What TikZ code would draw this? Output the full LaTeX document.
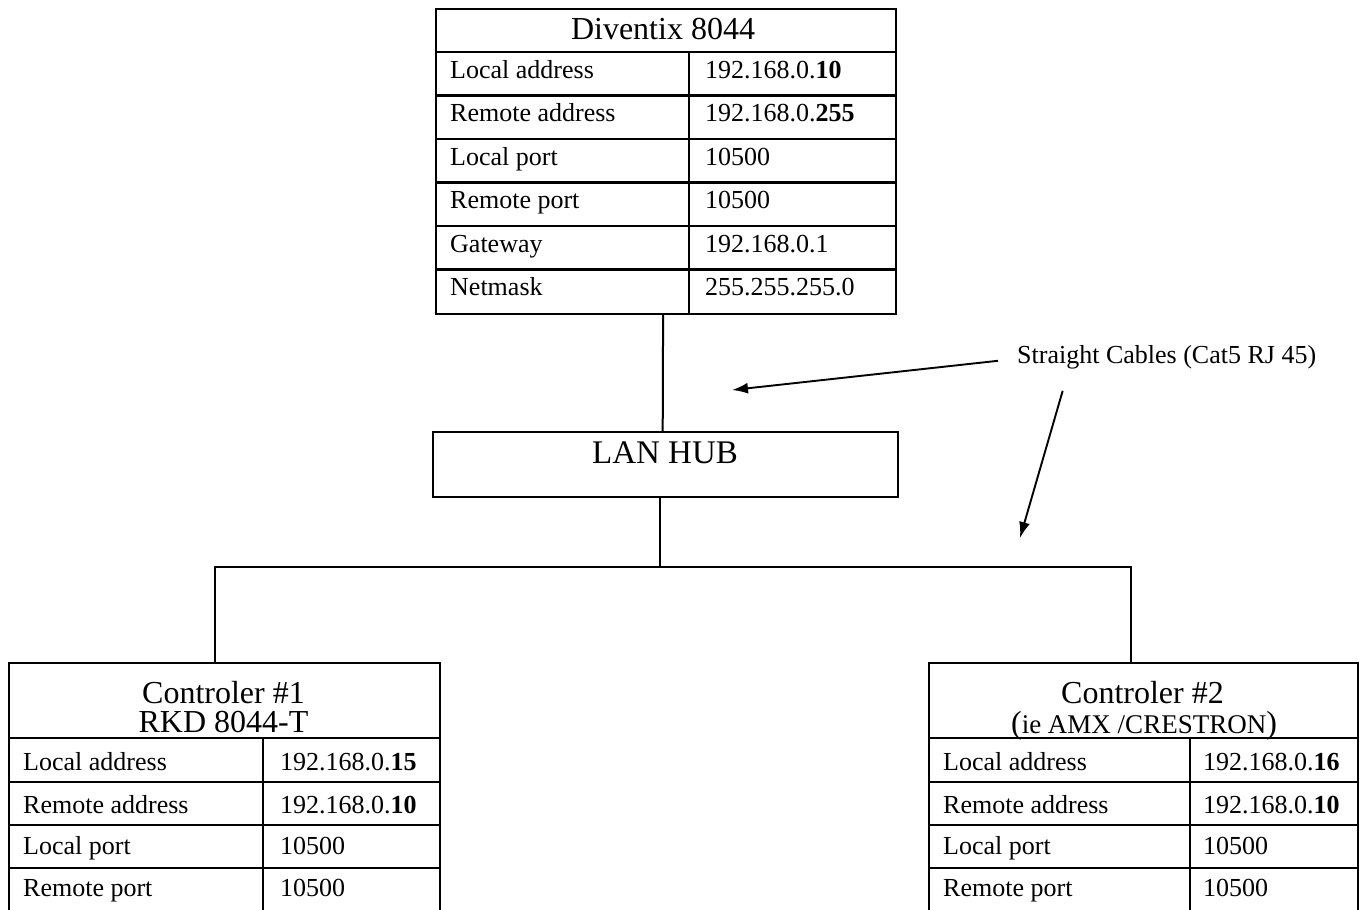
\documentclass[tikz,border=0pt]{standalone}
\usepackage{fontspec}
\setmainfont{Liberation Serif}
\usepackage{tikz}
\usetikzlibrary{arrows.meta}
\usetikzlibrary{calc}

\tikzset{
  tablebox/.style={draw, line width=2.2pt, inner sep=0pt, anchor=north west},
  celltext/.style={anchor=base west, inner sep=0pt, font=\fontsize{26}{30}\selectfont},
  titletext/.style={anchor=base, inner sep=0pt, font=\fontsize{32}{36}\selectfont},
  cable/.style={line width=2pt},
  cablearrow/.style={line width=1.9pt, -{Latex[length=16pt,width=11pt]}},
}

\begin{document}
\begin{tikzpicture}[x=1pt, y=-1pt]
  \useasboundingbox (0,0) rectangle (1363,910);
  \clip (0,0) rectangle (1363,910);

  % Diventix table
  \node[tablebox, minimum width=460pt, minimum height=305pt] (diventix) at (435,8) {};
  \foreach \y in {52,95.5,139,182.5,226,269.5} \draw[line width=2.2pt] (435,\y) -- (895,\y);
  \draw[line width=2.2pt] (689,52) -- (689,313);
  \node[titletext] (dtitle) at (663,39) {Diventix 8044};
  \node[celltext] (d1) at (450,78) {Local address};
  \node[celltext] (d1v) at (705,78) {192.168.0.\textbf{10}};
  \node[celltext] (d2) at (450,121.5) {Remote address};
  \node[celltext] (d2v) at (705,121.5) {192.168.0.\textbf{255}};
  \node[celltext] (d3) at (450,165) {Local port};
  \node[celltext] (d3v) at (705,165) {10500};
  \node[celltext] (d4) at (450,208.5) {Remote port};
  \node[celltext] (d4v) at (705,208.5) {10500};
  \node[celltext] (d5) at (450,252) {Gateway};
  \node[celltext] (d5v) at (705,252) {192.168.0.1};
  \node[celltext] (d6) at (450,295) {Netmask};
  \node[celltext] (d6v) at (705,295) {255.255.255.0};

  % hub
  \node[tablebox, line width=2.4pt, minimum width=465pt, minimum height=65pt] (hub) at (432,431) {};
  \node[titletext, font=\fontsize{33}{36}\selectfont] (hubtext) at (665,463) {LAN HUB};

  % controller 1
  \node[tablebox, minimum width=431pt, minimum height=250pt] (ctrlA) at (8,662) {};
  \foreach \y in {738,782,825,868} \draw[line width=2.2pt] (8,\y) -- (439,\y);
  \draw[line width=2.2pt] (263,738) -- (263,912);
  \node[titletext] (atitle) at (223.5,703) {Controler \#1};
  \node[titletext] (asub) at (223.5,732) {RKD 8044-T};
  \node[celltext] (a1) at (23,770) {Local address};
  \node[celltext] (a1v) at (280,770) {192.168.0.\textbf{15}};
  \node[celltext] (a2) at (23,813) {Remote address};
  \node[celltext] (a2v) at (280,813) {192.168.0.\textbf{10}};
  \node[celltext] (a3) at (23,854) {Local port};
  \node[celltext] (a3v) at (280,854) {10500};
  \node[celltext] (a4) at (23,896) {Remote port};
  \node[celltext] (a4v) at (280,896) {10500};

  % controller 2
  \node[tablebox, minimum width=429pt, minimum height=250pt] (ctrlB) at (928,662) {};
  \foreach \y in {738,782,825,868} \draw[line width=2.2pt] (928,\y) -- (1357,\y);
  \draw[line width=2.2pt] (1190,738) -- (1190,912);
  \node[titletext] (btitle) at (1142.5,703) {Controler \#2};
  \node[titletext] (bsub) at (1144,733) {({\fontsize{27}{30}\selectfont ie AMX /CRESTRON})};
  \node[celltext] (b1) at (943,770) {Local address};
  \node[celltext] (b1v) at (1203,770) {192.168.0.\textbf{16}};
  \node[celltext] (b2) at (943,813) {Remote address};
  \node[celltext] (b2v) at (1203,813) {192.168.0.\textbf{10}};
  \node[celltext] (b3) at (943,854) {Local port};
  \node[celltext] (b3v) at (1203,854) {10500};
  \node[celltext] (b4) at (943,896) {Remote port};
  \node[celltext] (b4v) at (1203,896) {10500};

  % cables
  \coordinate (busL) at (215,567);
  \coordinate (busR) at (1131,567);
  \draw[cable] ([xshift=-3pt]diventix.south) -- ([xshift=-3pt]hub.north);
  \draw[cable] ([xshift=-6pt]hub.south) -- ([xshift=-6pt]hub.south |- busL);
  \draw[cable] (busL |- ctrlA.north) -- (busL) -- (busR) -- (busR |- ctrlB.north);

  % label with arrows
  \node[celltext] (cables) at (1017,363) {Straight Cables (Cat5 RJ 45)};
  \coordinate (tipA) at (732,390);
  \coordinate (tipB) at (1020,538);
  \draw[cablearrow] ([xshift=-19pt, yshift=-4pt]cables.west) -- (tipA);
  \draw[cablearrow] ([xshift=-104pt, yshift=-22pt]cables.south) -- (tipB);
\end{tikzpicture}
\end{document}
